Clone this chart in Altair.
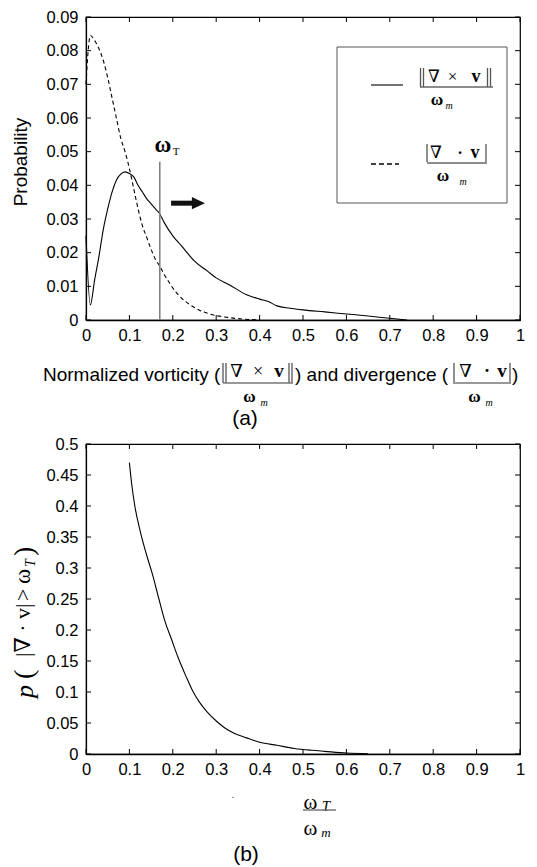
import altair as alt
import pandas as pd

# ---------------- data ----------------
# (a) probability of normalized vorticity (solid) and divergence (dashed)
vort_x = [0.0, 0.01, 0.02, 0.03, 0.04, 0.05, 0.06, 0.07, 0.08, 0.09,
          0.10, 0.11, 0.12, 0.13, 0.14, 0.15, 0.16, 0.17, 0.18,
          0.20, 0.22, 0.25, 0.28, 0.30, 0.33, 0.37, 0.40, 0.42, 0.44, 0.47,
          0.50, 0.55, 0.60, 0.65, 0.70, 0.74]
vort_y = [0.025, 0.0045, 0.012, 0.019, 0.027, 0.033, 0.038, 0.0415, 0.0433, 0.044,
          0.0435, 0.0425, 0.040, 0.038, 0.036, 0.0345, 0.033, 0.0315, 0.029,
          0.025, 0.022, 0.0175, 0.0145, 0.0125, 0.0105, 0.0075, 0.0062, 0.0055, 0.0042, 0.0035,
          0.003, 0.0024, 0.0018, 0.0012, 0.0005, 0.0]
div_x = [0.0, 0.005, 0.01, 0.02, 0.03, 0.04, 0.05, 0.06, 0.07, 0.08, 0.09,
         0.10, 0.11, 0.12, 0.13, 0.14, 0.15, 0.16, 0.17, 0.18, 0.19, 0.20,
         0.22, 0.24, 0.26, 0.28, 0.30, 0.33, 0.36, 0.40]
div_y = [0.070, 0.080, 0.0845, 0.083, 0.0805, 0.077, 0.072, 0.066, 0.060, 0.054, 0.050,
         0.045, 0.039, 0.033, 0.028, 0.0245, 0.021, 0.018, 0.016, 0.0135, 0.0115, 0.0095,
         0.0065, 0.0045, 0.003, 0.002, 0.0013, 0.0007, 0.0003, 0.0]
omega_T = 0.17
omega_T_line_top = 0.047
arrow_y = 0.0347
arrow_x0, arrow_x1, arrow_head_x = 0.196, 0.246, 0.259

# (b) exceedance probability p(|div v| > omega_T)
exc_x = [0.1, 0.105, 0.1125, 0.124, 0.138, 0.153, 0.168, 0.182, 0.197, 0.212,
         0.23, 0.245, 0.261, 0.28, 0.302, 0.32, 0.34, 0.37, 0.4, 0.44,
         0.48, 0.52, 0.55, 0.6, 0.65]
exc_y = [0.47, 0.437, 0.40, 0.362, 0.325, 0.29, 0.25, 0.214, 0.185, 0.156,
         0.126, 0.103, 0.084, 0.067, 0.052, 0.042, 0.034, 0.026, 0.019, 0.014,
         0.009, 0.006, 0.0043, 0.0016, 0.0005]

x_ticks = [0, 0.1, 0.2, 0.3, 0.4, 0.5, 0.6, 0.7, 0.8, 0.9, 1]
top_y_ticks = [0, 0.01, 0.02, 0.03, 0.04, 0.05, 0.06, 0.07, 0.08, 0.09]
bot_y_ticks = [0, 0.05, 0.1, 0.15, 0.2, 0.25, 0.3, 0.35, 0.4, 0.45, 0.5]

# ---------------- styling ----------------
SANS = "Liberation Sans, Arial, sans-serif"
SERIF = "Liberation Serif, Times New Roman, DejaVu Serif, serif"
W = 434
H1 = 303
H2 = 310
TICK = 5
LABEL_SIZE = 16.5
TITLE_SIZE = 19


def one():
    return pd.DataFrame({"a": [0]})


def txt(s, x, y, size, font=SERIF, weight="normal", style="normal",
        align="center", baseline="middle", angle=0, color="black"):
    return alt.Chart(pd.DataFrame({"t": [s]})).mark_text(
        font=font, fontSize=size, fontWeight=weight, fontStyle=style,
        align=align, baseline=baseline, angle=angle, color=color
    ).encode(x=alt.value(x), y=alt.value(y), text="t:N")


def hbar(x1, x2, y, color="#777777", width=1.5, dash=None):
    kw = dict(color=color, strokeWidth=width)
    if dash:
        kw["strokeDash"] = dash
    return alt.Chart(one()).mark_rule(**kw).encode(
        x=alt.value(x1), x2=alt.value(x2), y=alt.value(y))


def vbar(x, y1, y2, color="#555555", width=1.3):
    return alt.Chart(one()).mark_rule(color=color, strokeWidth=width).encode(
        x=alt.value(x), y=alt.value(y1), y2=alt.value(y2))


def axis_x():
    return alt.Axis(values=x_ticks, format="~g", title=None, ticks=False, domain=True,
                    domainColor="black", domainWidth=1.5, grid=False,
                    labelFont=SANS, labelFontSize=LABEL_SIZE, labelColor="black",
                    labelPadding=7, labelFlush=False, labelOverlap=False)


def axis_y(vals):
    return alt.Axis(values=vals, format="~g", title=None, ticks=False, domain=True,
                    domainColor="black", domainWidth=1.2, grid=False,
                    labelFont=SANS, labelFontSize=LABEL_SIZE, labelColor="black",
                    labelPadding=8, labelFlush=False, labelOverlap=False)


XS = alt.Scale(domain=[0, 1], nice=False, zero=False)


def frame_ticks(ys, yvals, h):
    dfx = pd.DataFrame({"v": x_ticks})
    dfy = pd.DataFrame({"v": yvals})
    ax = axis_x()
    ay = axis_y(yvals)
    return [
        alt.Chart(dfx).mark_rule(color="black", strokeWidth=1).encode(
            x=alt.X("v:Q", scale=XS, axis=ax), y=alt.value(h), y2=alt.value(h - TICK)),
        alt.Chart(dfx).mark_rule(color="black", strokeWidth=1).encode(
            x=alt.X("v:Q", scale=XS, axis=ax), y=alt.value(0), y2=alt.value(TICK)),
        alt.Chart(dfy).mark_rule(color="black", strokeWidth=1).encode(
            y=alt.Y("v:Q", scale=ys, axis=ay), x=alt.value(0), x2=alt.value(TICK)),
        alt.Chart(dfy).mark_rule(color="black", strokeWidth=1).encode(
            y=alt.Y("v:Q", scale=ys, axis=ay), x=alt.value(W), x2=alt.value(W - TICK)),
    ]


# ================= panel (a) =================
ys1 = alt.Scale(domain=[0, 0.09], nice=False, zero=False)
AX1 = axis_x()
AY1 = axis_y(top_y_ticks)

df_v = pd.DataFrame({"x": vort_x, "y": vort_y})
df_d = pd.DataFrame({"x": div_x, "y": div_y})

vort_line = alt.Chart(df_v).mark_line(color="black", strokeWidth=1.1, interpolate="monotone").encode(
    x=alt.X("x:Q", scale=XS, axis=AX1), y=alt.Y("y:Q", scale=ys1, axis=AY1))
div_line = alt.Chart(df_d).mark_line(color="black", strokeWidth=1.1, strokeDash=[4, 3],
                                     interpolate="monotone").encode(
    x=alt.X("x:Q", scale=XS, axis=AX1), y=alt.Y("y:Q", scale=ys1, axis=AY1))

thr = alt.Chart(pd.DataFrame({"x": [omega_T], "y0": [0.0], "y1": [omega_T_line_top]})).mark_rule(
    color="#808080", strokeWidth=1.6).encode(
    x=alt.X("x:Q", scale=XS, axis=AX1), y=alt.Y("y0:Q", scale=ys1, axis=AY1), y2="y1:Q")

shaft = alt.Chart(pd.DataFrame({"x0": [arrow_x0], "x1": [arrow_x1], "y": [arrow_y]})).mark_rule(
    color="#111111", strokeWidth=5).encode(
    x=alt.X("x0:Q", scale=XS, axis=AX1), x2="x1:Q", y=alt.Y("y:Q", scale=ys1, axis=AY1))
head = alt.Chart(pd.DataFrame({"x": [arrow_head_x], "y": [arrow_y]})).mark_point(
    shape="M-1,-0.95L1,0L-1,0.95Z", filled=True, color="#111111", opacity=1, size=170).encode(
    x=alt.X("x:Q", scale=XS, axis=AX1), y=alt.Y("y:Q", scale=ys1, axis=AY1))

top_layers = [vort_line, div_line, thr, shaft, head]
top_layers += frame_ticks(ys1, top_y_ticks, H1)

# omega_T label
top_layers += [
    txt("ω", 77, 128, 23, weight="bold"),
    txt("T", 90, 135, 11),
]

# legend
legend_box = alt.Chart(one()).mark_rect(fill="white", stroke="#555555", strokeWidth=1).encode(
    x=alt.value(251), x2=alt.value(421), y=alt.value(30), y2=alt.value(186))
top_layers += [
    legend_box,
    # solid sample + ||curl v|| / omega_m
    hbar(285, 317, 68, color="black", width=1.1),
    vbar(334.5, 51, 70), vbar(337.5, 51, 70),
    txt("∇", 348, 65, 17, baseline="alphabetic"),
    txt("×", 366.5, 65, 17, baseline="alphabetic"),
    txt("v", 390, 65, 18, weight="bold", baseline="alphabetic"),
    vbar(401.5, 51, 70), vbar(404.5, 51, 70),
    hbar(334, 407, 70, color="#666666", width=1.5),
    txt("ω", 351, 83, 17, weight="bold"),
    txt("m", 363, 89, 10, style="italic"),
    # dashed sample + |div v| / omega_m
    hbar(285, 313, 147, color="black", width=1.6, dash=[5, 3]),
    vbar(341, 127, 145),
    txt("∇", 350, 141, 17, baseline="alphabetic"),
    txt("·", 374, 141, 17, weight="bold", baseline="alphabetic"),
    txt("v", 389, 141, 18, weight="bold", baseline="alphabetic"),
    vbar(400, 127, 145),
    hbar(341, 401, 146, color="#666666", width=1.5),
    txt("ω", 357, 159, 17, weight="bold"),
    txt("m", 377, 165, 10, style="italic"),
]

# y title
top_layers.append(txt("Probability", -65, 145, TITLE_SIZE, font=SANS, angle=270))

# x title (with fractions), positioned relative to the bottom of the plot
B = H1
top_layers += [
    txt("Normalized vorticity (", -43, B + 61, TITLE_SIZE, font=SANS, align="left", baseline="alphabetic"),
    vbar(137, B + 43, B + 63), vbar(140, B + 43, B + 63),
    txt("∇", 150.5, B + 57, 18, baseline="alphabetic"),
    txt("×", 172, B + 57, 18, baseline="alphabetic"),
    txt("v", 193, B + 57, 19, weight="bold", baseline="alphabetic"),
    vbar(203, B + 43, B + 63), vbar(206, B + 43, B + 63),
    hbar(137, 207, B + 63),
    txt("ω", 163.5, B + 77, 17, weight="bold"),
    txt("m", 178, B + 83, 10, style="italic"),
    txt(") and divergence (", 209, B + 61, TITLE_SIZE, font=SANS, align="left", baseline="alphabetic"),
    vbar(368, B + 43, B + 62),
    txt("∇", 379.5, B + 57, 18, baseline="alphabetic"),
    txt("·", 401, B + 57, 18, weight="bold", baseline="alphabetic"),
    txt("v", 416, B + 57, 19, weight="bold", baseline="alphabetic"),
    vbar(424, B + 43, B + 62),
    hbar(367, 425, B + 63),
    txt("ω", 388.5, B + 77, 17, weight="bold"),
    txt("m", 403, B + 83, 10, style="italic"),
    txt(")", 426, B + 61, TITLE_SIZE, font=SANS, align="left", baseline="alphabetic"),
    txt("(a)", 159, B + 99, 21, font=SANS),
]

top = alt.layer(*top_layers).properties(width=W, height=H1)

# ================= panel (b) =================
ys2 = alt.Scale(domain=[0, 0.5], nice=False, zero=False)
AX2 = axis_x()
AY2 = axis_y(bot_y_ticks)
df_e = pd.DataFrame({"x": exc_x, "y": exc_y})
exc_line = alt.Chart(df_e).mark_line(color="black", strokeWidth=1.1, interpolate="monotone").encode(
    x=alt.X("x:Q", scale=XS, axis=AX2), y=alt.Y("y:Q", scale=ys2, axis=AY2))

bot_layers = [exc_line]
bot_layers += frame_ticks(ys2, bot_y_ticks, H2)

# y title  p(|∇ · v| > ω_T), rotated
BX = -56
bot_layers += [
    txt("p", BX + 3, 254, 26, style="italic", align="left", baseline="alphabetic", angle=270),
    txt("(", BX + 3, 235, 28, align="left", baseline="alphabetic", angle=270),
    txt("|∇ · v|", BX, 213, 22, align="left", baseline="alphabetic", angle=270),
    txt(">", BX, 157, 22, align="left", baseline="alphabetic", angle=270),
    txt("ω", BX, 140, 23, align="left", baseline="alphabetic", angle=270),
    txt("T", BX + 5, 123, 14, style="italic", align="left", baseline="alphabetic", angle=270),
    txt(")", BX + 3, 112, 28, align="left", baseline="alphabetic", angle=270),
]

# x title  ω_T / ω_m
B2 = H2
bot_layers += [
    txt(".", 147, B2 + 41, 10, font=SANS, color="#444444"),
    txt("ω", 224.5, B2 + 49, 21),
    txt("T", 240, B2 + 52, 15, style="italic"),
    hbar(217, 250, B2 + 56),
    txt("ω", 224.5, B2 + 75, 21),
    txt("m", 240, B2 + 79, 13, style="italic"),
    txt("(b)", 160, B2 + 101, 21, font=SANS),
]

bottom = alt.layer(*bot_layers).properties(width=W, height=H2)

chart = alt.vconcat(top, bottom, spacing=124, bounds="flush").properties(
    padding={"left": 2, "top": 0, "right": 0, "bottom": 0}, background="white"
).configure_view(stroke="black", strokeWidth=1.2)

chart.save("out.html", embed_options={"renderer": "svg", "actions": False})
